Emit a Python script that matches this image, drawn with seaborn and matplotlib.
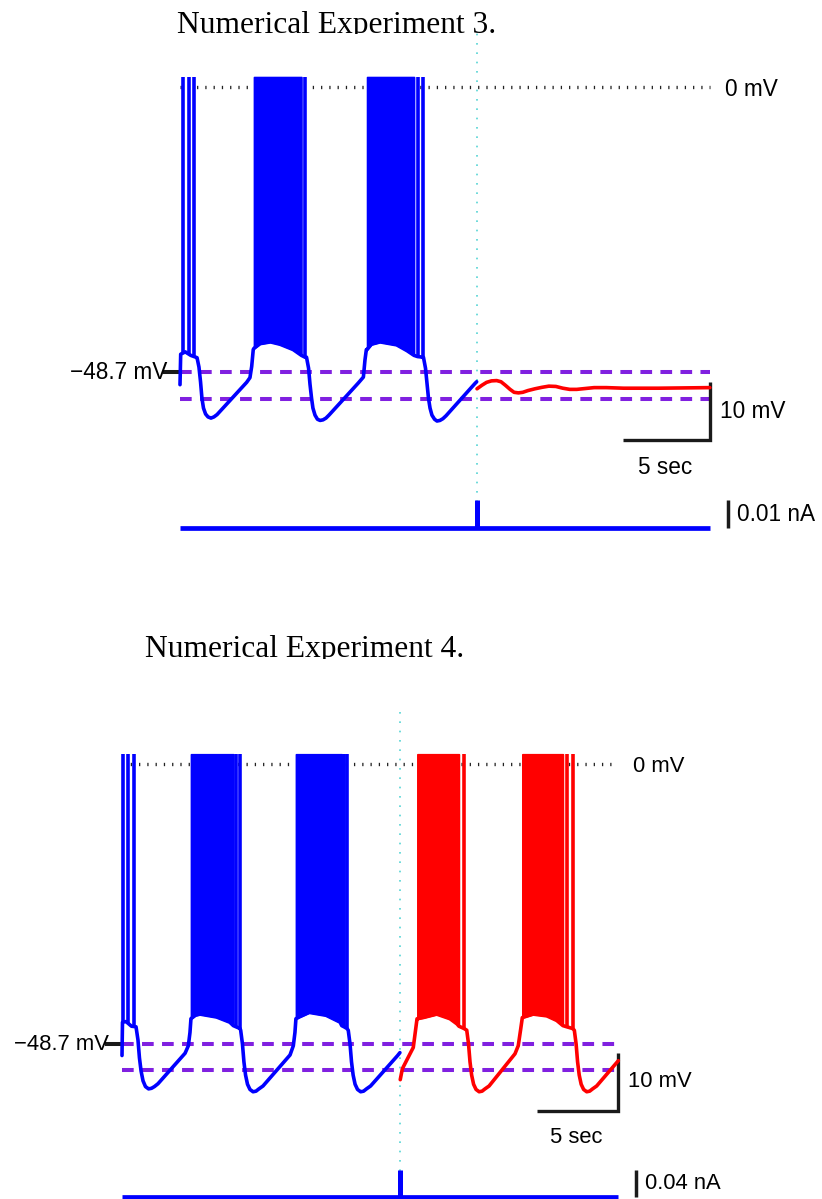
import numpy as np
import pandas as pd
import matplotlib
matplotlib.use("Agg")
import matplotlib.pyplot as plt
import seaborn as sns
from matplotlib.transforms import Bbox, TransformedBbox

# ---------------------------------------------------------------- data
T_END = 30.45          # s, length of each recording
STIM_T = 17.07         # s, time of the brief current pulse
PEAK_V = 1.7           # mV, spike overshoot
REST_V = -48.7         # mV, marked reference level
LOW_V = -53.3          # mV, lower reference level

# Experiment 3 -- membrane potential before the pulse (mV vs s)
EXP3_PRE_T = [0.00, 0.04, 0.30, 0.62, 0.90,
              0.98, 1.09, 1.18, 1.26, 1.35, 1.47, 1.61, 1.78, 1.95, 2.13,
              3.83, 4.02, 4.12, 4.21,
              4.25, 4.60, 5.20, 5.75, 6.50, 6.98,
              7.18,
              7.27, 7.39, 7.47, 7.56, 7.64, 7.76, 7.90, 8.05, 8.22, 8.39, 8.56,
              10.25, 10.54, 10.63, 10.71,
              10.75, 11.00, 11.50, 12.45, 13.05, 13.45,
              13.65, 13.94,
              13.99, 14.11, 14.20, 14.28, 14.37, 14.48, 14.63, 14.77, 14.94, 15.11, 15.29,
              16.95, 17.05]
EXP3_PRE_V = [-50.8, -45.6, -45.2, -45.8, -46.1,
              -46.2, -47.8, -50.3, -53.1, -54.8, -55.8, -56.3, -56.5, -56.3, -55.9,
              -50.4, -49.6, -47.7, -44.8,
              -44.6, -43.8, -43.5, -43.9, -44.8, -45.8,
              -46.1,
              -46.1, -48.0, -50.7, -53.1, -54.8, -56.0, -56.7, -56.9, -56.8, -56.5, -56.0,
              -50.5, -49.5, -46.6, -44.8,
              -44.8, -43.9, -43.5, -44.0, -45.0, -45.8,
              -46.0, -46.1,
              -46.1, -48.0, -50.7, -53.1, -54.8, -56.0, -56.7, -57.0, -56.9, -56.6, -56.1,
              -50.6, -50.3]
EXP3_PRE_BURSTS = [(4.25, 6.98), (10.75, 13.45)]
EXP3_PRE_SPIKE_T = [0.16, 0.50, 0.79, 7.18, 13.65, 13.94]
EXP3_PRE_SPIKE_BASE = [-45.4, -45.5, -46.0, -46.1, -46.0, -46.1]

# Experiment 3 -- after the pulse
EXP3_POST_T = [17.07, 17.35, 17.62, 17.90, 18.20, 18.45, 18.70, 18.97, 19.20, 19.45,
               19.70, 20.00, 20.40, 20.80, 21.20, 21.60, 22.00, 22.40, 22.80, 23.30,
               23.80, 24.50, 25.50, 27.50, 30.45]
EXP3_POST_V = [-51.5, -50.9, -50.4, -50.15, -50.1, -50.3, -50.9, -51.6, -52.1, -52.2,
               -52.1, -51.8, -51.5, -51.25, -51.05, -51.1, -51.4, -51.6, -51.6, -51.45,
               -51.3, -51.3, -51.4, -51.4, -51.3]
EXP3_POST_BURSTS = []
EXP3_POST_SPIKE_T = []
EXP3_POST_SPIKE_BASE = []
EXP3_PULSE_NA = 0.01

# Experiment 4 -- before the pulse
EXP4_PRE_T = [0.00, 0.03, 0.25, 0.58,
              0.86, 0.98, 1.07, 1.17, 1.29, 1.44, 1.63, 1.81, 1.99, 2.21,
              3.87, 4.07, 4.17, 4.23,
              4.50, 4.79, 5.80, 6.61, 6.83,
              6.99, 7.24,
              7.28, 7.39, 7.48, 7.58, 7.70, 7.85, 8.04, 8.22, 8.40, 8.65,
              10.31, 10.51, 10.61, 10.67,
              10.87, 11.49, 12.52, 13.38, 13.48,
              13.62, 13.80,
              13.88, 13.99, 14.08, 14.18, 14.30, 14.45, 14.64, 14.82, 15.00, 15.25,
              16.91, 17.05]
EXP4_PRE_V = [-50.7, -44.9, -44.8, -45.6,
              -45.7, -48.0, -51.1, -53.4, -55.1, -56.1, -56.5, -56.4, -56.1, -55.6,
              -50.3, -49.0, -46.7, -44.3,
              -43.7, -43.5, -44.0, -44.9, -45.5,
              -45.7, -46.0,
              -46.3, -48.7, -51.8, -54.1, -55.7, -56.6, -57.0, -56.9, -56.5, -56.0,
              -50.6, -49.0, -46.7, -44.3,
              -44.0, -43.2, -43.7, -44.9, -45.5,
              -45.7, -46.0,
              -46.3, -48.7, -51.8, -54.1, -55.7, -56.6, -57.0, -56.9, -56.5, -56.0,
              -50.7, -50.2]
EXP4_PRE_BURSTS = [(4.23, 6.83), (10.67, 13.48)]
EXP4_PRE_SPIKE_T = [0.08, 0.39, 0.74, 6.99, 7.24, 13.62, 13.80]
EXP4_PRE_SPIKE_BASE = [-44.9, -45.0, -45.5, -45.7, -46.0, -45.7, -46.0]

# Experiment 4 -- after the pulse
EXP4_POST_T = [17.07, 17.20, 17.67, 17.87, 17.99, 18.10,
               18.12, 18.48, 19.31, 20.12, 20.55, 20.67,
               20.98,
               21.15, 21.26, 21.35, 21.45, 21.57, 21.72, 21.91, 22.09, 22.27, 22.52,
               24.11, 24.31, 24.46, 24.56,
               25.23, 26.06, 26.67, 27.05,
               27.28, 27.64,
               27.75, 27.86, 27.95, 28.05, 28.17, 28.32, 28.51, 28.69, 28.87, 29.12,
               30.45]
EXP4_POST_V = [-54.9, -53.0, -50.4, -49.3, -46.7, -44.3,
               -44.3, -44.1, -43.5, -44.3, -45.2, -45.6,
               -46.0,
               -46.3, -48.7, -51.8, -54.1, -55.7, -56.6, -57.0, -56.9, -56.5, -56.0,
               -50.4, -49.0, -46.1, -44.1,
               -43.5, -43.8, -44.6, -45.5,
               -45.7, -46.0,
               -46.3, -48.7, -51.8, -54.1, -55.7, -56.6, -57.0, -56.9, -56.5, -56.0,
               -51.6]
EXP4_POST_BURSTS = [(18.12, 20.67), (24.56, 27.05)]
EXP4_POST_SPIKE_T = [20.98, 27.28, 27.64]
EXP4_POST_SPIKE_BASE = [-46.0, -45.7, -46.0]
EXP4_PULSE_NA = 0.04

TITLES = ["Numerical Experiment 3.", "Numerical Experiment 4."]
SCALE_S = 5        # s
SCALE_MV = 10      # mV

# ---------------------------------------------------------------- style
sns.set_theme(style="white")
plt.rcParams["font.family"] = ["Liberation Sans", "DejaVu Sans"]
plt.rcParams["text.color"] = "black"
SERIF = ["Liberation Serif", "DejaVu Serif"]

W, H, DPI = 822, 1199, 100
BLUE, RED = "#0000ff", "#ff0000"
PURPLE = "#8020e0"
CYAN = "#55d4d4"
TRACE_LW = 2.6
PX = 0.72  # points per pixel at 100 dpi

fig = plt.figure(figsize=(W / DPI, H / DPI), dpi=DPI)


def frame(top_px, bottom_px, x0_px, px_per_s, zero_px, px_per_unit):
    """Transparent axes over a horizontal band of the figure with a fixed data scale."""
    ax = fig.add_axes([0, 1 - bottom_px / H, 1, (bottom_px - top_px) / H])
    ax.set_axis_off()
    ax.patch.set_visible(False)
    lims = dict(
        x=(-x0_px / px_per_s, (W - x0_px) / px_per_s),
        y=((zero_px - bottom_px) / px_per_unit, (zero_px - top_px) / px_per_unit),
    )
    return ax, lims


def draw_segment(ax, t, v, color, bursts, spike_t, spike_base):
    t = np.asarray(t, float)
    v = np.asarray(v, float)
    df = pd.DataFrame({"t": t, "v": v})
    sns.lineplot(data=df, x="t", y="v", ax=ax, color=color, linewidth=TRACE_LW,
                 estimator=None, sort=False, legend=False, zorder=4)
    for b0, b1 in bursts:
        m = (t >= b0) & (t <= b1)
        ax.fill_between(t[m], v[m], PEAK_V, color=color, linewidth=1.2,
                        edgecolor=color, zorder=4)
    if len(spike_t):
        ax.vlines(spike_t, spike_base, PEAK_V, color=color, linewidth=TRACE_LW, zorder=4)


def draw_panel(band, x0_px, pps, v0_px, ppmv, i0_px, ppna, pulse_na, segments,
               title, title_xy, title_clip, cyan_px, fs):
    top, bottom = band
    ax_v, lv = frame(top, bottom, x0_px, pps, v0_px, ppmv)
    ax_i, li = frame(top, bottom, x0_px, pps, i0_px, ppna)

    span = bottom - top
    # stimulus marker
    ax_v.axvline(STIM_T, ymin=1 - (cyan_px[1] - top) / span, ymax=1 - (cyan_px[0] - top) / span,
                 color=CYAN, linewidth=1.2, linestyle=(0, (1.0, 4.6)), zorder=1)
    # 0 mV reference
    ax_v.hlines(0, 0, T_END, color="#222222", linewidth=2.4,
                linestyle=(0, (0.38, 2.1)), zorder=1)
    # resting / trough reference levels
    ax_v.hlines([REST_V, LOW_V], 0, T_END, color=PURPLE, linewidth=2.9,
                linestyle=(0, (2.9, 2.07)), zorder=2)

    for seg in segments:
        draw_segment(ax_v, *seg)

    # level tick and labels
    ax_v.plot([-17 / pps, 0], [REST_V, REST_V], color="k", linewidth=2.9,
              solid_capstyle="butt", zorder=3)
    ax_v.annotate("\u221248.7 mV", xy=(0, REST_V), xytext=(-13 * PX, 0),
                  textcoords="offset points", ha="right", va="center", fontsize=fs)
    ax_v.annotate("0 mV", xy=(T_END, 0), xytext=(15 * PX, -3 * PX),
                  textcoords="offset points", ha="left", va="center", fontsize=fs)

    # voltage / time scale bar
    v_bar = -60.3
    ax_v.plot([T_END - SCALE_S, T_END, T_END], [v_bar, v_bar, v_bar + SCALE_MV],
              color="k", linewidth=2.4, solid_joinstyle="miter", solid_capstyle="butt")
    ax_v.annotate(f"{SCALE_MV} mV", xy=(T_END, v_bar + SCALE_MV / 2), xytext=(10 * PX, 0),
                  textcoords="offset points", ha="left", va="center", fontsize=fs)
    ax_v.annotate(f"{SCALE_S} sec", xy=(T_END - SCALE_S / 2, v_bar), xytext=(-1.5 * PX, -27 * PX),
                  textcoords="offset points", ha="center", va="center", fontsize=fs)

    # injected current
    ax_i.hlines(0, 0, T_END, color=BLUE, linewidth=3.4, zorder=4)
    ax_i.vlines(STIM_T, 0, pulse_na, color=BLUE, linewidth=3.6, zorder=4)
    x_bar = T_END + 18 / pps
    ax_i.vlines(x_bar, 0, pulse_na, color="k", linewidth=2.5)
    ax_i.annotate(f"{pulse_na:.2f} nA", xy=(x_bar, pulse_na / 2), xytext=(9 * PX, 0),
                  textcoords="offset points", ha="left", va="center", fontsize=fs)

    for ax, lim in ((ax_v, lv), (ax_i, li)):
        ax.set_xlim(*lim["x"])
        ax.set_ylim(*lim["y"])

    txt = fig.text(title_xy[0] / W, 1 - title_xy[1] / H, title, family=SERIF,
                   fontsize=22.7, color="black", ha="left", va="baseline")
    txt.set_clip_box(TransformedBbox(Bbox.from_extents(0, 1 - title_clip / H, 1, 1),
                                     fig.transFigure))
    txt.set_clip_on(True)


draw_panel(band=(0, 600), x0_px=180, pps=17.4, v0_px=87, ppmv=5.86,
           i0_px=528.3, ppna=2800, pulse_na=EXP3_PULSE_NA,
           segments=[
               (EXP3_PRE_T, EXP3_PRE_V, BLUE, EXP3_PRE_BURSTS, EXP3_PRE_SPIKE_T, EXP3_PRE_SPIKE_BASE),
               (EXP3_POST_T, EXP3_POST_V, RED, EXP3_POST_BURSTS, EXP3_POST_SPIKE_T, EXP3_POST_SPIKE_BASE),
           ],
           title=TITLES[0], title_xy=(177, 33), title_clip=34, cyan_px=(31, 530), fs=16.3)

draw_panel(band=(600, 1199), x0_px=122, pps=16.3, v0_px=764, ppmv=5.75,
           i0_px=1196.5, ppna=667, pulse_na=EXP4_PULSE_NA,
           segments=[
               (EXP4_PRE_T, EXP4_PRE_V, BLUE, EXP4_PRE_BURSTS, EXP4_PRE_SPIKE_T, EXP4_PRE_SPIKE_BASE),
               (EXP4_POST_T, EXP4_POST_V, RED, EXP4_POST_BURSTS, EXP4_POST_SPIKE_T, EXP4_POST_SPIKE_BASE),
           ],
           title=TITLES[1], title_xy=(145, 657), title_clip=659, cyan_px=(708, 1199), fs=15.8)

fig.savefig("out.png", dpi=DPI, facecolor="white")
